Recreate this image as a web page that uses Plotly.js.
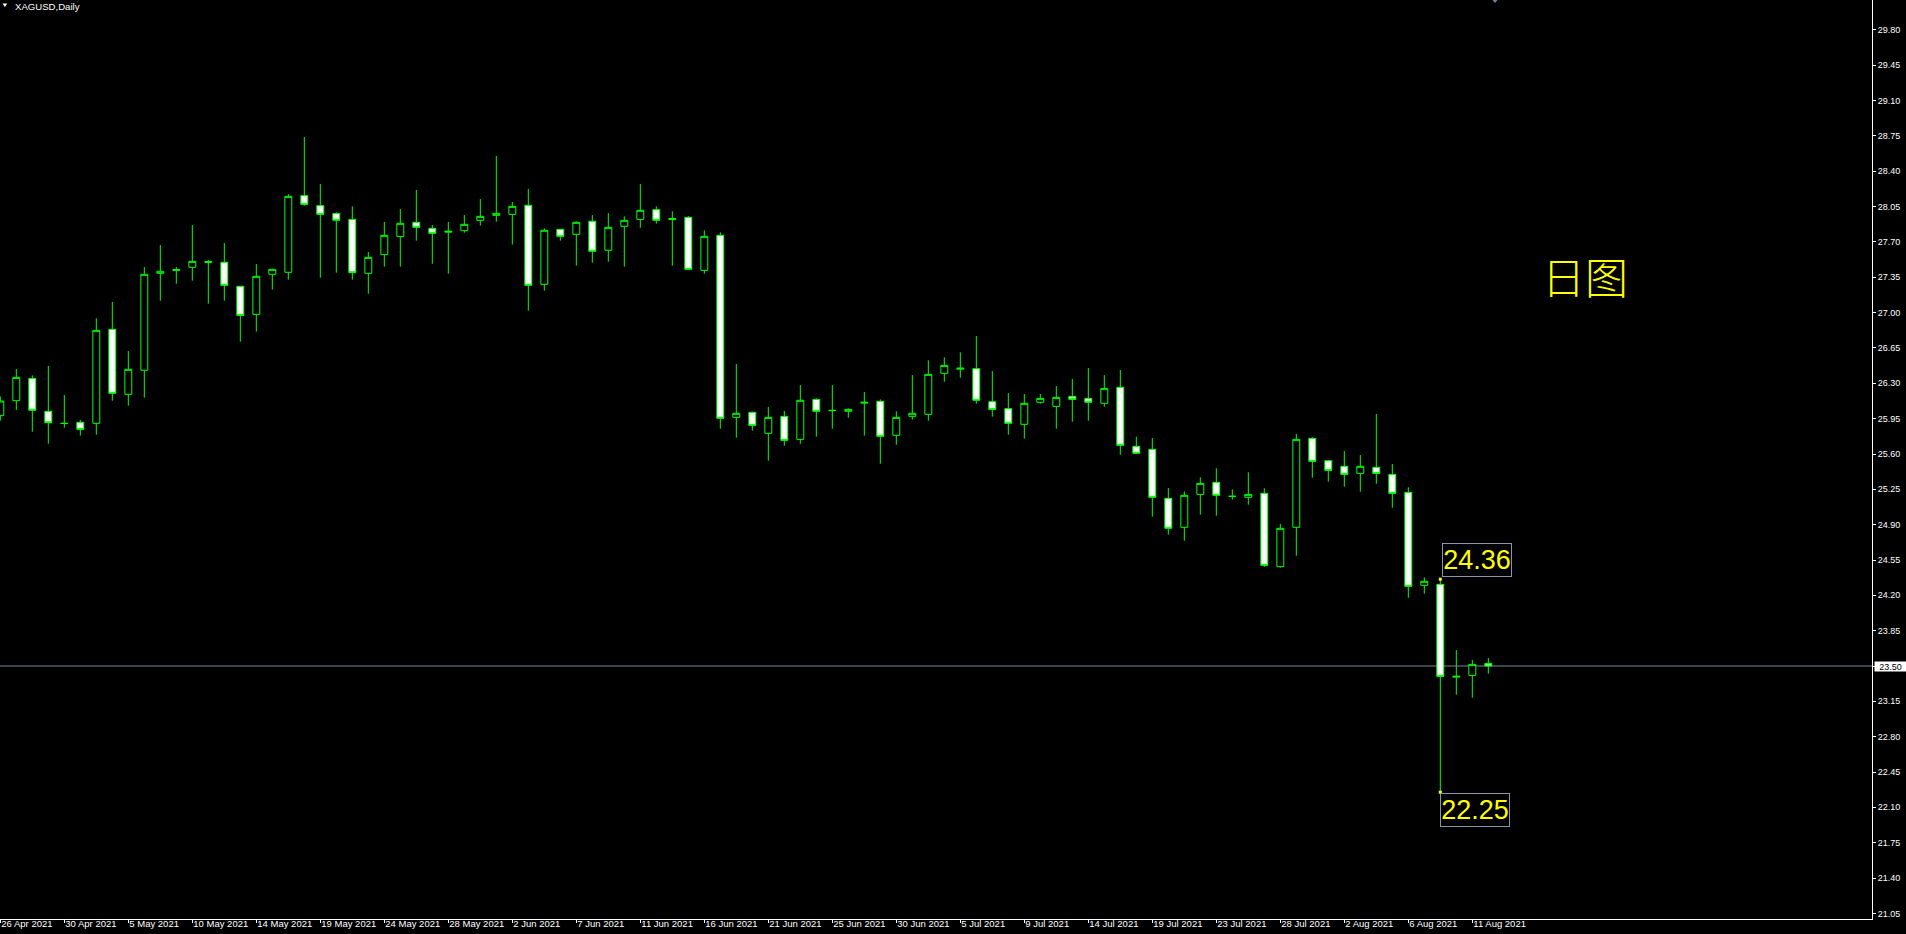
<!DOCTYPE html>
<html><head><meta charset="utf-8">
<script src="https://cdn.plot.ly/plotly-3.0.1.min.js"></script>
<style>html,body{margin:0;padding:0;background:#000;overflow:hidden}#chart{width:1906px;height:934px}</style>
</head><body><div id="chart"></div>
<script>
const dates = ['2021-04-26','2021-04-27','2021-04-28','2021-04-29','2021-04-30','2021-05-02','2021-05-03','2021-05-04','2021-05-05','2021-05-06','2021-05-07','2021-05-09','2021-05-10','2021-05-11','2021-05-12','2021-05-13','2021-05-14','2021-05-16','2021-05-17','2021-05-18','2021-05-19','2021-05-20','2021-05-21','2021-05-23','2021-05-24','2021-05-25','2021-05-26','2021-05-27','2021-05-28','2021-05-30','2021-05-31','2021-06-01','2021-06-02','2021-06-03','2021-06-04','2021-06-06','2021-06-07','2021-06-08','2021-06-09','2021-06-10','2021-06-11','2021-06-13','2021-06-14','2021-06-15','2021-06-16','2021-06-17','2021-06-18','2021-06-20','2021-06-21','2021-06-22','2021-06-23','2021-06-24','2021-06-25','2021-06-27','2021-06-28','2021-06-29','2021-06-30','2021-07-01','2021-07-02','2021-07-04','2021-07-05','2021-07-06','2021-07-07','2021-07-08','2021-07-09','2021-07-11','2021-07-12','2021-07-13','2021-07-14','2021-07-15','2021-07-16','2021-07-18','2021-07-19','2021-07-20','2021-07-21','2021-07-22','2021-07-23','2021-07-25','2021-07-26','2021-07-27','2021-07-28','2021-07-29','2021-07-30','2021-08-01','2021-08-02','2021-08-03','2021-08-04','2021-08-05','2021-08-06','2021-08-08','2021-08-09','2021-08-10','2021-08-11','2021-08-12'];
const opens  = [25.980,26.128,26.349,26.023,25.905,25.914,25.904,26.835,26.191,26.429,27.390,27.418,27.449,27.497,27.499,27.261,26.983,27.380,27.400,28.159,28.060,27.981,27.924,27.390,27.575,27.753,27.895,27.835,27.797,27.812,27.915,27.964,27.974,28.063,27.281,27.825,27.776,27.905,27.618,27.855,27.924,28.020,27.922,27.944,27.419,27.766,25.963,26.013,25.805,25.973,25.745,26.141,26.033,26.023,26.104,26.122,25.785,25.973,25.993,26.399,26.440,26.445,26.118,26.049,25.894,26.112,26.072,26.171,26.151,26.102,26.260,25.676,25.646,25.161,24.874,25.200,25.319,25.182,25.171,25.210,24.484,24.874,25.755,25.534,25.478,25.408,25.468,25.398,25.220,24.299,24.309,23.390,23.407,23.526];
const highs  = [26.170,26.442,26.379,26.472,26.184,25.937,26.944,27.106,26.620,27.452,27.670,27.452,27.868,27.522,27.690,27.265,27.482,27.435,28.175,28.740,28.275,27.994,28.053,27.601,27.898,28.027,28.215,27.868,27.898,27.967,28.126,28.552,28.096,28.225,27.835,27.830,27.905,27.967,27.987,27.954,28.275,28.053,28.004,27.958,27.816,27.796,26.491,26.018,26.066,26.026,26.283,26.151,26.283,26.052,26.214,26.141,26.023,26.382,26.528,26.557,26.607,26.769,26.422,26.204,26.194,26.194,26.273,26.343,26.452,26.382,26.432,25.772,25.758,25.263,25.230,25.369,25.458,25.250,25.418,25.260,24.907,25.798,25.765,25.540,25.630,25.590,25.996,25.501,25.270,24.378,24.360,23.658,23.559,23.579];
const lows   = [25.930,26.036,25.821,25.702,25.861,25.782,25.791,26.128,26.079,26.158,27.119,27.287,27.317,27.089,27.119,26.713,26.812,27.228,27.327,28.060,27.347,27.396,27.327,27.188,27.456,27.456,27.713,27.485,27.386,27.792,27.862,27.901,27.674,27.020,27.218,27.713,27.466,27.495,27.505,27.456,27.842,27.882,27.465,27.425,27.386,25.851,25.762,25.831,25.534,25.682,25.702,25.772,25.851,25.960,25.782,25.504,25.692,25.940,25.930,26.316,26.356,26.098,25.970,25.791,25.752,26.098,25.851,25.920,25.930,26.069,25.593,25.600,24.979,24.801,24.741,24.999,24.989,25.148,25.098,24.481,24.474,24.593,25.365,25.326,25.276,25.227,25.306,25.068,24.177,24.216,22.250,23.216,23.186,23.424];
const closes = [26.125,26.359,26.033,25.910,25.902,25.844,26.825,26.201,26.439,27.380,27.410,27.426,27.508,27.505,27.271,26.973,27.360,27.429,28.152,28.073,27.974,27.915,27.396,27.548,27.766,27.885,27.845,27.786,27.806,27.875,27.954,27.984,28.053,27.271,27.816,27.756,27.895,27.608,27.845,27.915,28.014,27.915,27.932,27.429,27.756,25.953,26.003,25.884,25.963,25.735,26.132,26.023,26.030,26.042,26.112,25.775,25.963,26.003,26.389,26.478,26.450,26.132,26.042,25.904,26.102,26.151,26.161,26.141,26.112,26.250,25.686,25.607,25.171,24.864,25.191,25.309,25.191,25.180,25.200,24.497,24.864,25.745,25.527,25.438,25.398,25.478,25.408,25.210,24.289,24.339,23.397,23.398,23.516,23.500];

const tickDates  = ['2021-04-26','2021-04-30','2021-05-05','2021-05-10','2021-05-14','2021-05-19','2021-05-24','2021-05-28','2021-06-02','2021-06-07','2021-06-11','2021-06-16','2021-06-21','2021-06-25','2021-06-30','2021-07-05','2021-07-09','2021-07-14','2021-07-19','2021-07-23','2021-07-28','2021-08-02','2021-08-06','2021-08-11'];
const tickLabels = ['26 Apr 2021','30 Apr 2021','5 May 2021','10 May 2021','14 May 2021','19 May 2021','24 May 2021','28 May 2021','2 Jun 2021','7 Jun 2021','11 Jun 2021','16 Jun 2021','21 Jun 2021','25 Jun 2021','30 Jun 2021','5 Jul 2021','9 Jul 2021','14 Jul 2021','19 Jul 2021','23 Jul 2021','28 Jul 2021','2 Aug 2021','6 Aug 2021','11 Aug 2021'];
const priceTicks = [21.05,21.40,21.75,22.10,22.45,22.80,23.15,23.50,23.85,24.20,24.55,24.90,25.25,25.60,25.95,26.30,26.65,27.00,27.35,27.70,28.05,28.40,28.75,29.10,29.45,29.80];

const bidPrice = 23.50;
const markDate = '2021-08-09';
const markHigh = 24.36;
const markLow = 22.25;
const symbolTitle = 'XAGUSD,Daily';
const periodLabel = '日图';

const sans = 'Liberation Sans, Arial, sans-serif';
const W = 1906, H = 934, PW = 1872, PH = 919;

const candles = {
  type: 'candlestick', x: dates, open: opens, high: highs, low: lows, close: closes,
  increasing: {line: {color: '#00ff00', width: 1}, fillcolor: '#000000'},
  decreasing: {line: {color: '#00ff00', width: 1}, fillcolor: '#ffffff'},
  whiskerwidth: 0, hoverinfo: 'skip', showlegend: false
};
const marks = {
  type: 'scatter', mode: 'markers', x: [markDate, markDate], y: [markHigh, markLow],
  marker: {symbol: 'square', size: 3, color: '#ffff00', line: {width: 0}},
  hoverinfo: 'skip', showlegend: false, cliponaxis: false
};

const layout = {
  width: W, height: H,
  margin: {l: 0, r: W - PW, t: 0, b: H - PH, pad: 0},
  paper_bgcolor: '#000000', plot_bgcolor: '#000000',
  showlegend: false, boxgap: 0.38,
  xaxis: {
    type: 'category', categoryorder: 'array', categoryarray: dates,
    range: [-0.02, 116.98], rangeslider: {visible: false},
    tickmode: 'array', tickvals: tickDates, ticktext: tickLabels,
    ticks: 'outside', ticklen: 3, tickcolor: '#ffffff', tickwidth: 1,
    ticklabelposition: 'outside right', tickangle: 0, ticklabelstandoff: -4,
    tickfont: {family: sans, size: 9.5, color: '#ffffff'},
    showline: true, linecolor: '#ffffff', linewidth: 1,
    showgrid: false, zeroline: false, fixedrange: true
  },
  yaxis: {
    side: 'right', range: [20.994, 30.097],
    tickmode: 'array', tickvals: priceTicks, tickformat: '.2f',
    ticks: 'outside', ticklen: 3, tickcolor: '#ffffff', tickwidth: 1,
    tickfont: {family: sans, size: 9, color: '#ffffff'},
    showline: true, linecolor: '#ffffff', linewidth: 1,
    showgrid: false, zeroline: false, fixedrange: true
  },
  shapes: [
    {type: 'line', xref: 'paper', x0: 0, x1: 1, yref: 'y', y0: bidPrice, y1: bidPrice,
     line: {color: '#778899', width: 1}, layer: 'below'},
    {type: 'path', xref: 'paper', yref: 'paper',
     path: `M ${2.5/PW} ${1-3.5/PH} L ${7.3/PW} ${1-3.5/PH} L ${4.9/PW} ${1-7/PH} Z`,
     fillcolor: '#ffffff', line: {width: 0}},
    {type: 'path', xref: 'paper', yref: 'paper',
     path: `M ${1492.5/PW} 1 L ${1497.5/PW} 1 L ${1495/PW} ${1-3/PH} Z`,
     fillcolor: '#708090', line: {width: 0}}
  ],
  annotations: [
    {xref: 'paper', yref: 'paper', x: 13/PW, y: 1 - 6.5/PH, xanchor: 'left', yanchor: 'middle',
     text: symbolTitle, showarrow: false, font: {family: sans, size: 9.6, color: '#ffffff'}},
    {xref: 'paper', yref: 'paper', x: 1585/PW, y: 1 - 275/PH, xanchor: 'center', yanchor: 'middle',
     text: periodLabel, showarrow: false, font: {family: 'Noto Sans CJK SC', size: 43, color: '#ffff00', weight: 300}},
    {xref: 'x', yref: 'y', x: markDate, y: markHigh, xanchor: 'left', yanchor: 'bottom', xshift: 2, yshift: 2,
     text: markHigh.toFixed(2), showarrow: false, width: 68, height: 32, align: 'center',
     bordercolor: '#8a95a5', borderwidth: 1, borderpad: 0, bgcolor: 'rgba(0,0,0,0)',
     font: {family: sans, size: 27, color: '#ffff00'}},
    {xref: 'x', yref: 'y', x: markDate, y: markLow, xanchor: 'left', yanchor: 'top', xshift: 0, yshift: -1,
     text: markLow.toFixed(2), showarrow: false, width: 68, height: 32, align: 'center',
     bordercolor: '#8a95a5', borderwidth: 1, borderpad: 0, bgcolor: 'rgba(0,0,0,0)',
     font: {family: sans, size: 27, color: '#ffff00'}},
    {xref: 'paper', yref: 'y', x: 1, y: bidPrice, xanchor: 'left', yanchor: 'middle', xshift: 2,
     text: bidPrice.toFixed(2), showarrow: false, width: 31, height: 9, bgcolor: '#ffffff',
     borderpad: 0, font: {family: sans, size: 9, color: '#000000'}}
  ]
};

Plotly.newPlot('chart', [candles, marks], layout, {displayModeBar: false, staticPlot: true});
</script></body></html>
